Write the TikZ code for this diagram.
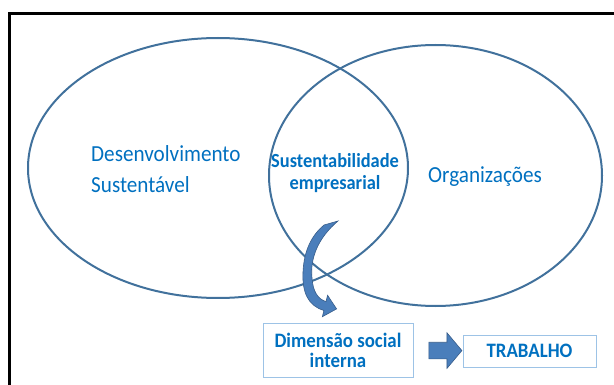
\documentclass[tikz,border=0pt]{standalone}
\usepackage{fontspec}
\setmainfont{Carlito}[FakeStretch=0.92]
\usetikzlibrary{shapes.arrows,calc}
\definecolor{ringblue}{HTML}{41719C}
\definecolor{textblue}{HTML}{0070C0}
\definecolor{boxline}{HTML}{9DC3E6}
\definecolor{arrowfill}{HTML}{4A7EBB}
\definecolor{arrowline}{HTML}{385D8A}
\tikzset{
  ring/.style={draw=ringblue, line width=2pt},
  plain/.style={text=textblue, font=\fontsize{23}{31}\selectfont, align=left, inner sep=0pt},
  strong/.style={text=textblue, font=\fontsize{20}{22}\selectfont\bfseries, align=center, inner sep=0pt},
  tag/.style={draw=boxline, line width=1pt, text=textblue, align=center, inner sep=0pt,
    font=\fontsize{20.5}{20}\selectfont\bfseries},
  blockarrow/.style={single arrow, fill=arrowfill, draw=arrowline, line width=0.6pt,
    minimum height=33pt, inner xsep=0pt, inner ysep=8pt, single arrow head extend=9.5pt,
    single arrow tip angle=100}
}
\begin{document}
\begin{tikzpicture}[x=1pt,y=-1pt]
      \useasboundingbox (0,0) rectangle (614,385);
      % frame
      \draw[line width=3pt] (620,13.5) -| (9,390);
      % the two sets
      \draw[ring] (218,168) ellipse [x radius=190, y radius=130];
      \draw[ring] (435.5,175.5) ellipse [x radius=166.5, y radius=130.5];
      \node[plain, anchor=west] (desenv) at (91,169.5) {Desenvolvimento\\Sustentável};
      \node[plain, anchor=base west] (org) at (428,183) {Organizações};
      \node[strong] (sustemp) at (335,173) {Sustentabilidade\\empresarial};
      \node[tag, minimum width=150pt, minimum height=54pt] (dimensao) at (338,350)
        {Dimensão social\\interna};
      \node[tag, minimum width=133pt, minimum height=32pt] (trabalho) at (529.5,351)
        {TRABALHO};
      % curved arrow
      \filldraw[fill=arrowfill, draw=arrowline, line width=0.6pt]
        (324,225) -- (338,221)
        .. controls (318,238) and (310,258) .. (312,278)
        .. controls (313,292) and (318,299) .. (326,301.6)
        -- (327.6,295.3) -- (336.6,308.9) -- (322.4,316.7) -- (323.9,310.4)
        .. controls (308,306) and (302,292) .. (303,272)
        .. controls (304,250) and (312,235) .. (324,225) -- cycle;
      \node[blockarrow] (seta) at ($(dimensao.east)!0.58!(trabalho.west)$) {};
    \end{tikzpicture}
\end{document}
